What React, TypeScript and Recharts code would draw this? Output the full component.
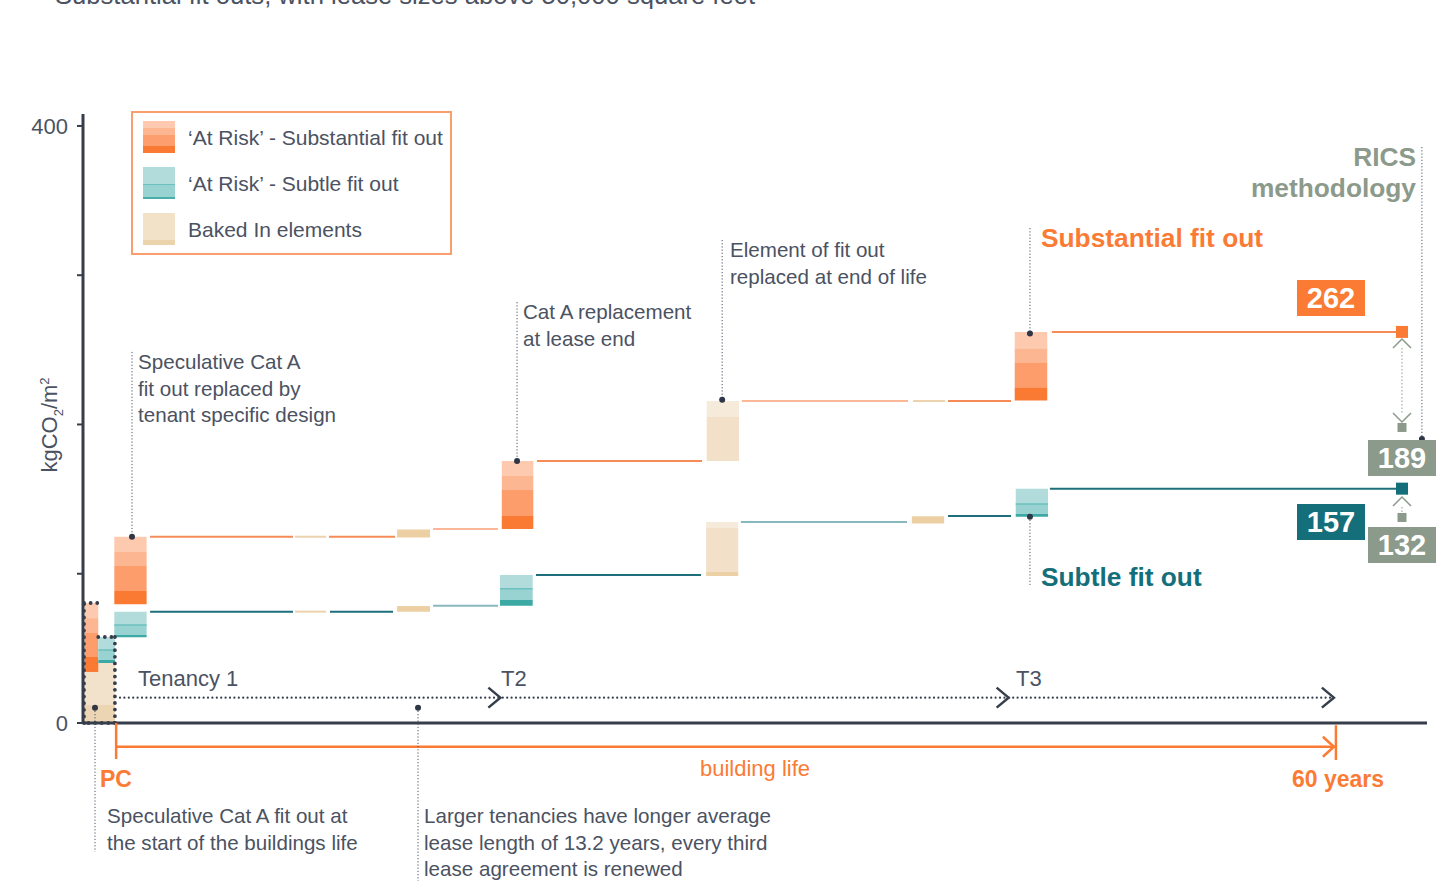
/**
 * Embodied carbon over building life - substantial vs subtle fit out
 */

import {
  ComposedChart,
  Line,
  XAxis,
  YAxis,
  ReferenceArea,
  ReferenceLine,
  ReferenceDot,
} from "recharts";

// x = years from practical completion (PC), y = kgCO2/m2

// 'At Risk' substantial fit out, layer boundaries bottom -> top
const substantialBlocks = [
  { start: -1.55, end: -0.88, levels: [34.2, 44.2, 60.3, 70.3, 80.4] },
  { start: -0.09, end: 1.5, levels: [79.5, 88.4, 105.2, 114.6, 124.8] },
  { start: 18.97, end: 20.52, levels: [130, 138.7, 156.1, 165.5, 175.5] },
  { start: 44.2, end: 45.8, levels: [216, 224.9, 241.7, 251, 262] },
];

// 'At Risk' subtle fit out
const subtleBlocks = [
  { start: -0.88, end: -0.06, levels: [40.2, 42.2, 48.9, 57.6] },
  { start: -0.09, end: 1.5, levels: [57.4, 59, 65.6, 74.6] },
  { start: 18.88, end: 20.49, levels: [78.6, 82.4, 90, 99.2] },
  { start: 44.25, end: 45.84, levels: [138.2, 140, 146.7, 157] },
];

// baked in elements
const bakedBlocks = [
  { start: -1.58, end: -0.06, levels: [0, 12.1, 40.2] },
  { start: 13.82, end: 15.44, levels: [124.2, 129.6] },
  { start: 13.82, end: 15.44, levels: [74.6, 78.4] },
  { start: 29.05, end: 30.64, levels: [175.5, 205, 215.7] },
  { start: 29.02, end: 30.6, levels: [98.5, 101.2, 130.6, 134.7] },
  { start: 39.14, end: 40.73, levels: [133.6, 138.5] },
];

// running totals between replacements
const substantialSteps = [
  { from: 1.67, to: 8.7, value: 124.8, kind: "fit" },
  { from: 8.8, to: 10.33, value: 124.8, kind: "baked" },
  { from: 10.47, to: 13.72, value: 124.8, kind: "fit" },
  { from: 15.59, to: 18.78, value: 130, kind: "faded" },
  { from: 20.7, to: 28.82, value: 175.5, kind: "fit" },
  { from: 30.78, to: 38.95, value: 215.7, kind: "faded" },
  { from: 39.2, to: 40.77, value: 215.7, kind: "baked" },
  { from: 40.92, to: 44.02, value: 215.7, kind: "fit" },
  { from: 46.03, to: 63.1, value: 262, kind: "fit" },
];

const subtleSteps = [
  { from: 1.67, to: 8.7, value: 74.6, kind: "fit" },
  { from: 8.8, to: 10.33, value: 74.6, kind: "baked" },
  { from: 10.52, to: 13.62, value: 74.6, kind: "fit" },
  { from: 15.59, to: 18.78, value: 78.6, kind: "faded" },
  { from: 20.65, to: 28.77, value: 99.2, kind: "fit" },
  { from: 30.73, to: 38.9, value: 134.7, kind: "faded" },
  { from: 40.92, to: 44.02, value: 138.7, kind: "fit" },
  { from: 45.93, to: 63.15, value: 157, kind: "fit" },
];

const finalYear = 63.25;
const finalValues = [262, 157];
const ricsValues = [198, 137.7];
const resultLabels = ["262", "157", "189", "132"];

const tenancyLabels = ["Tenancy 1", "T2", "T3"];
const tenancyArrows = [18.9, 43.9, 59.9];
const tenancyLine = [
  { year: 0.19, t: 17 },
  { year: 59.9, t: 17 },
];
const buildingLife = [0, 60];
const yTicks = [0, 100, 200, 300, 400];

// PC speculative fit out outline
const pcOutline = [
  { x: -1.58, y: 0 },
  { x: -1.58, y: 80.4 },
  { x: -0.75, y: 80.4 },
  { x: -0.88, y: 57.6 },
  { x: -0.06, y: 57.6 },
  { x: -0.06, y: 0 },
  { x: -1.58, y: 0 },
];
const pcOutlineBreaks = [2]; // no stroke between these points

// annotation leaders: year, top, bottom, dot
const leaders = [
  { year: 0.78, top: 248.6, bottom: 124.8, dot: 124.8 },
  { year: 19.72, top: 282, bottom: 175.5, dot: 175.5 },
  { year: 29.81, top: 323.6, bottom: 216.5, dot: 216.5 },
  { year: 44.95, top: 331.6, bottom: 261, dot: 261 },
  { year: 44.95, top: 138.2, bottom: 92.5, dot: 138.2 },
  { year: -1.04, top: 10.3, bottom: -86.4, dot: 10.3 },
  { year: 14.85, top: 10.3, bottom: -106, dot: 10.3 },
  { year: 64.23, top: 385.9, bottom: 190.3, dot: 190.3 },
];

const W = 1452;
const H = 881;
const FONT = '"Liberation Sans", Arial, Helvetica, sans-serif';

const DARK = "#363d4b";
const TEXT = "#4b5262";
const ORANGE = "#fb7b35";
const TEAL = "#146f7b";
const SAGE = "#8c9a8b";

const SUB_FILLS = ["#fb7a33", "#fc9d6b", "#fdb692", "#fdcab0"];
const SUBTLE_FILLS = ["#3ca9a5", "#98d2d1", "#b1dcdb"];
const BAKED_FILLS = [
  ["#ecd5b2", "#f2e2cb"],
  ["#ecd0a3"],
  ["#ecd0a3"],
  ["#f2e1c8", "#f6eadb"],
  ["#ecd0a6", "#f2e1c8", "#f6eadb"],
  ["#ecd0a3"],
];
const SUB_LINE: Record<string, string> = { fit: "#f68b57", faded: "#fbb797", baked: "#ecd3ae" };
const SUBTLE_LINE: Record<string, string> = { fit: "#1e6f7b", faded: "#86b8bd", baked: "#ecd3ae" };

function stack(blocks: any[], fill: (bi: number, li: number) => string, key: string) {
  return blocks.flatMap((b, bi) =>
    b.levels.slice(1).map((top: number, li: number) => (
      <ReferenceArea
        key={`${key}-${bi}-${li}`}
        x1={b.start}
        x2={b.end}
        y1={b.levels[li]}
        y2={top}
        fill={fill(bi, li)}
        fillOpacity={1}
        stroke="none"
        ifOverflow="visible"
      />
    ))
  );
}

function steps(list: any[], colors: Record<string, string>, key: string) {
  return list.map((s, i) => (
    <ReferenceLine
      key={`${key}-${i}`}
      segment={[
        { x: s.from, y: s.value },
        { x: s.to, y: s.value },
      ]}
      stroke={colors[s.kind]}
      strokeWidth={2}
      ifOverflow="visible"
    />
  ));
}

const chevron =
  (dir: "right" | "up" | "down", color: string, w: number, h: number, sw: number) =>
  (props: any) => {
    const { cx, cy } = props;
    let d = "";
    if (dir === "right") d = `M${cx - w},${cy - h} L${cx},${cy} L${cx - w},${cy + h}`;
    if (dir === "up") d = `M${cx - w},${cy + h} L${cx},${cy} L${cx + w},${cy + h}`;
    if (dir === "down") d = `M${cx - w},${cy - h} L${cx},${cy} L${cx + w},${cy - h}`;
    return <path d={d} fill="none" stroke={color} strokeWidth={sw} />;
  };

const square = (size: number, color: string) => (props: any) => {
  const { cx, cy } = props;
  return <rect x={cx - size / 2} y={cy - size / 2} width={size} height={size} fill={color} />;
};

const YTick = (props: any) => {
  const { x, y, payload } = props;
  if (payload.value !== 0 && payload.value !== 400) return <g />;
  return (
    <text x={x - 7} y={y} dy={8} textAnchor="end" fontSize={22} fill={TEXT} fontFamily={FONT}>
      {payload.value}
    </text>
  );
};

function Note({ x, top, lines, size = 20.6, color = TEXT, weight = 400 }: any) {
  return (
    <div
      style={{
        position: "absolute",
        left: x,
        top,
        fontSize: size,
        lineHeight: "26.5px",
        color,
        fontWeight: weight,
        whiteSpace: "nowrap",
      }}
    >
      {lines.map((l: string, i: number) => (
        <div key={i}>{l}</div>
      ))}
    </div>
  );
}

function ValueBox({ left, top, bg, text }: any) {
  return (
    <div
      style={{
        position: "absolute",
        left,
        top,
        width: 68,
        height: 36,
        background: bg,
        color: "#fff",
        fontWeight: 700,
        fontSize: 29,
        display: "flex",
        alignItems: "center",
        justifyContent: "center",
      }}
    >
      {text}
    </div>
  );
}

function Swatch({ layers }: { layers: [string, number][] }) {
  return (
    <div style={{ position: "absolute", left: 10, width: 32 }}>
      {layers.map(([c, h], i) => (
        <div key={i} style={{ background: c, height: h }} />
      ))}
    </div>
  );
}

export default function App() {
  const outlineSegs = pcOutline.slice(1).map((p, i) => ({ a: pcOutline[i], b: p, i }));

  return (
    <div
      style={{
        position: "absolute",
        left: 0,
        top: 0,
        width: W,
        height: H,
        overflow: "hidden",
        background: "#fff",
        fontFamily: FONT,
        color: TEXT,
      }}
    >
      <ComposedChart
        width={W}
        height={H}
        data={tenancyLine}
        margin={{ top: 114, right: 25, bottom: 158, left: 0 }}
      >
        <XAxis type="number" dataKey="year" domain={[-1.63, 64.48]} hide allowDataOverflow />
        <YAxis
          type="number"
          domain={[0, 408]}
          ticks={yTicks}
          width={83}
          allowDataOverflow
          axisLine={{ stroke: DARK, strokeWidth: 3 }}
          tickLine={{ stroke: DARK, strokeWidth: 2 }}
          tickSize={6}
          tick={YTick}
        />

        {stack(bakedBlocks, (bi, li) => BAKED_FILLS[bi][li], "baked")}
        {stack(substantialBlocks, (_bi, li) => SUB_FILLS[li], "sub")}
        {stack(subtleBlocks, (_bi, li) => SUBTLE_FILLS[li], "subtle")}
        {subtleBlocks.map((b, i) => (
          <ReferenceLine
            key={`div-${i}`}
            segment={[
              { x: b.start, y: b.levels[2] },
              { x: b.end, y: b.levels[2] },
            ]}
            stroke="#6cc0bd"
            strokeWidth={1.5}
            ifOverflow="visible"
          />
        ))}

        {steps(substantialSteps, SUB_LINE, "ss")}
        {steps(subtleSteps, SUBTLE_LINE, "ts")}

        {/* x axis */}
        <ReferenceLine y={0} stroke={DARK} strokeWidth={3} ifOverflow="visible" />

        {/* PC outline */}
        {outlineSegs
          .filter((s) => !pcOutlineBreaks.includes(s.i))
          .map((s) => (
            <ReferenceLine
              key={`pc-${s.i}`}
              segment={[s.a, s.b]}
              stroke={DARK}
              strokeWidth={3.8}
              strokeDasharray="0 6.6"
              strokeLinecap="round"
              ifOverflow="visible"
            />
          ))}

        {/* tenancy timeline */}
        <Line
          dataKey="t"
          stroke={DARK}
          strokeWidth={2.2}
          strokeDasharray="0 4.4"
          strokeLinecap="round"
          dot={false}
          activeDot={false}
          isAnimationActive={false}
        />
        {tenancyArrows.map((yr, i) => (
          <ReferenceDot
            key={`ta-${i}`}
            x={yr}
            y={tenancyLine[0].t}
            r={0}
            ifOverflow="visible"
            shape={chevron("right", DARK, 12, 10, 2.5)}
          />
        ))}

        {/* building life */}
        <ReferenceLine
          segment={[
            { x: buildingLife[0], y: -15.9 },
            { x: buildingLife[1], y: -15.9 },
          ]}
          stroke={ORANGE}
          strokeWidth={2.5}
          ifOverflow="visible"
        />
        <ReferenceLine
          segment={[
            { x: buildingLife[0], y: 0 },
            { x: buildingLife[0], y: -24.1 },
          ]}
          stroke={ORANGE}
          strokeWidth={2.5}
          ifOverflow="visible"
        />
        <ReferenceLine
          segment={[
            { x: buildingLife[1], y: -1.5 },
            { x: buildingLife[1], y: -24.8 },
          ]}
          stroke={ORANGE}
          strokeWidth={2.5}
          ifOverflow="visible"
        />
        <ReferenceDot
          x={buildingLife[1] - 0.1}
          y={-15.9}
          r={0}
          ifOverflow="visible"
          shape={chevron("right", ORANGE, 11, 10, 2.5)}
        />

        {/* leaders */}
        {leaders.map((l, i) => (
          <ReferenceLine
            key={`ld-${i}`}
            segment={[
              { x: l.year, y: l.top },
              { x: l.year, y: l.bottom },
            ]}
            stroke={TEXT}
            strokeWidth={1}
            strokeDasharray="1.2 2"
            ifOverflow="visible"
          />
        ))}
        {leaders.map((l, i) => (
          <ReferenceDot
            key={`ldd-${i}`}
            x={l.year}
            y={l.dot}
            r={3}
            fill="#2f3645"
            stroke="none"
            ifOverflow="visible"
          />
        ))}

        {/* RICS comparison */}
        <ReferenceLine
          segment={[
            { x: finalYear, y: 251.3 },
            { x: finalYear, y: 207.7 },
          ]}
          stroke="#a3afa2"
          strokeWidth={1.2}
          strokeDasharray="1.5 2"
          ifOverflow="visible"
        />
        <ReferenceLine
          segment={[
            { x: finalYear, y: 144.7 },
            { x: finalYear, y: 140.7 },
          ]}
          stroke="#a3afa2"
          strokeWidth={1.2}
          strokeDasharray="1.5 2"
          ifOverflow="visible"
        />
        <ReferenceDot x={finalYear} y={257.3} r={0} ifOverflow="visible" shape={chevron("up", SAGE, 9, 9, 1.5)} />
        <ReferenceDot x={finalYear} y={201.7} r={0} ifOverflow="visible" shape={chevron("down", SAGE, 9, 9, 1.5)} />
        <ReferenceDot x={finalYear} y={151.4} r={0} ifOverflow="visible" shape={chevron("up", SAGE, 9, 9, 1.5)} />
        {ricsValues.map((v, i) => (
          <ReferenceDot key={`rv-${i}`} x={finalYear} y={v} r={0} ifOverflow="visible" shape={square(9, SAGE)} />
        ))}
        <ReferenceDot x={finalYear} y={finalValues[0]} r={0} ifOverflow="visible" shape={square(12, ORANGE)} />
        <ReferenceDot x={finalYear} y={finalValues[1]} r={0} ifOverflow="visible" shape={square(12, TEAL)} />
      </ComposedChart>

      {/* heading, cut off at the top edge as in the source */}
      <div style={{ position: "absolute", left: 55, top: -19, fontSize: 25.6, lineHeight: "28px", color: TEXT, whiteSpace: "nowrap" }}>
        Substantial fit outs, with lease sizes above 50,000 square feet
      </div>

      {/* y axis title */}
      <div
        style={{
          position: "absolute",
          left: 45 - 100,
          top: 425 - 14,
          width: 200,
          height: 28,
          lineHeight: "28px",
          textAlign: "center",
          fontSize: 22,
          transform: "rotate(-90deg)",
          transformOrigin: "center",
          whiteSpace: "nowrap",
        }}
      >
        kgCO<sub style={{ fontSize: 13 }}>2</sub>/m<sup style={{ fontSize: 13 }}>2</sup>
      </div>

      {/* legend */}
      <div
        style={{
          position: "absolute",
          left: 131,
          top: 111,
          width: 321,
          height: 144,
          border: "2px solid #fa9e6e",
          boxSizing: "border-box",
        }}
      >
        <div style={{ position: "absolute", top: 8 }}>
          <Swatch layers={[["#fdcab1", 7], ["#fcb692", 7], ["#fc9e6d", 11], ["#fb7a33", 7]]} />
        </div>
        <div style={{ position: "absolute", top: 54 }}>
          <Swatch layers={[["#b1dcdb", 17], ["#6cc0bd", 1], ["#98d3d2", 12], ["#4aafab", 2]]} />
        </div>
        <div style={{ position: "absolute", top: 100 }}>
          <Swatch layers={[["#f2e2c8", 27], ["#ebd3ac", 5]]} />
        </div>
        <Note x={55} top={12} size={21} lines={["\u2018At Risk\u2019 - Substantial fit out"]} />
        <Note x={55} top={58} size={21} lines={["\u2018At Risk\u2019 - Subtle fit out"]} />
        <Note x={55} top={104} size={21} lines={["Baked In elements"]} />
      </div>

      {/* annotations */}
      <Note x={138} top={349} lines={["Speculative Cat A", "fit out replaced by", "tenant specific design"]} />
      <Note x={523} top={299} lines={["Cat A replacement", "at lease end"]} />
      <Note x={730} top={237} lines={["Element of fit out", "replaced at end of life"]} />
      <Note x={107} top={803} lines={["Speculative Cat A fit out at", "the start of the buildings life"]} />
      <Note
        x={424}
        top={803}
        lines={["Larger tenancies have longer average", "lease length of 13.2 years, every third", "lease agreement is renewed"]}
      />

      {/* tenancy labels */}
      <Note x={138} top={666} size={22} lines={[tenancyLabels[0]]} />
      <Note x={501} top={666} size={22} lines={[tenancyLabels[1]]} />
      <Note x={1016} top={666} size={22} lines={[tenancyLabels[2]]} />

      {/* building life labels */}
      <Note x={100} top={766} size={23} weight={700} color={ORANGE} lines={["PC"]} />
      <Note x={700} top={756} size={22} color={ORANGE} lines={["building life"]} />
      <div style={{ position: "absolute", right: W - 1384, top: 766, fontSize: 23, lineHeight: "26.5px", fontWeight: 700, color: ORANGE }}>
        60 years
      </div>

      {/* series titles */}
      <div style={{ position: "absolute", left: 1041, top: 223, fontSize: 26.3, lineHeight: "30px", fontWeight: 700, color: ORANGE, whiteSpace: "nowrap" }}>
        Substantial fit out
      </div>
      <div style={{ position: "absolute", left: 1041, top: 562, fontSize: 26.3, lineHeight: "30px", fontWeight: 700, color: TEAL, whiteSpace: "nowrap" }}>
        Subtle fit out
      </div>
      <div
        style={{
          position: "absolute",
          right: W - 1416,
          top: 142,
          fontSize: 26.3,
          lineHeight: "31px",
          fontWeight: 700,
          color: SAGE,
          textAlign: "right",
          whiteSpace: "nowrap",
        }}
      >
        <div>RICS</div>
        <div>methodology</div>
      </div>

      {/* result boxes */}
      <ValueBox left={1297} top={280} bg={ORANGE} text={resultLabels[0]} />
      <ValueBox left={1297} top={504} bg={TEAL} text={resultLabels[1]} />
      <ValueBox left={1368} top={440} bg={SAGE} text={resultLabels[2]} />
      <ValueBox left={1368} top={527} bg={SAGE} text={resultLabels[3]} />
    </div>
  );
}
